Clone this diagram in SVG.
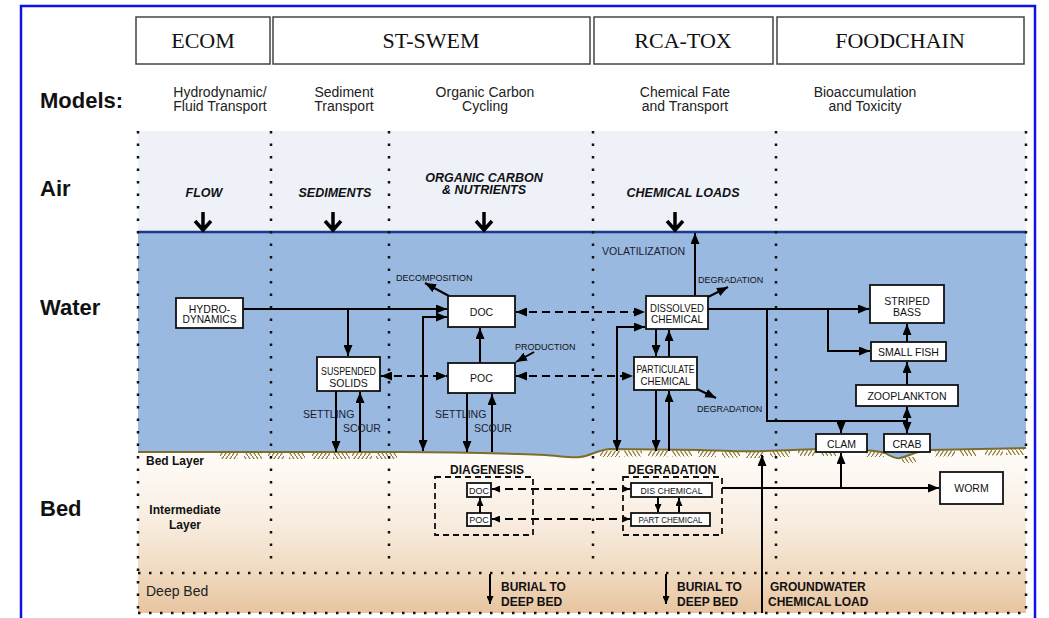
<svg xmlns="http://www.w3.org/2000/svg" width="1049" height="618" viewBox="0 0 1049 618">
<style>
.hdr{font-family:"Liberation Serif","Times New Roman",serif;font-size:22px;fill:#111;text-anchor:middle}
.hbox{fill:#fff;stroke:#444;stroke-width:1.5}
.sub{font-family:"Liberation Sans",Arial,sans-serif;font-size:14px;fill:#222;text-anchor:middle}
.zone{font-family:"Liberation Sans",Arial,sans-serif;font-size:22px;font-weight:bold;fill:#111}
.inp{font-family:"Liberation Sans",Arial,sans-serif;font-size:12.5px;font-weight:bold;font-style:italic;fill:#111;text-anchor:middle}
.box{fill:#fff;stroke:#111;stroke-width:1.8}
.bt{font-family:"Liberation Sans",Arial,sans-serif;font-size:10.5px;fill:#111;text-anchor:middle}
.bts{font-family:"Liberation Sans",Arial,sans-serif;font-size:9px;fill:#111;text-anchor:middle}
.sm{font-family:"Liberation Sans",Arial,sans-serif;font-size:9px;fill:#111}
.lab{font-family:"Liberation Sans",Arial,sans-serif;font-size:10.5px;fill:#1a2030}
.bl{font-family:"Liberation Sans",Arial,sans-serif;font-size:12px;font-weight:bold;fill:#111}
.ln{fill:none;stroke:#000;stroke-width:2}
.dash{stroke-dasharray:8 5}
.gbox{fill:none;stroke:#111;stroke-width:1.8;stroke-dasharray:6 4}
.dotv{fill:none;stroke:#111;stroke-width:2.5;stroke-dasharray:2.5 10}
.doth{fill:none;stroke:#111;stroke-width:2.5;stroke-dasharray:2.5 8.5}
.air{fill:none;stroke:#000;stroke-width:3.5;stroke-linejoin:miter}
.hf{fill:url(#hf)}
.hb{fill:url(#hb)}
</style>
<defs>
<marker id="a" viewBox="0 0 11 9" refX="11" refY="4.5" markerWidth="11" markerHeight="9" markerUnits="userSpaceOnUse" orient="auto-start-reverse"><path d="M0,0L11,4.5L0,9z" fill="#000"/></marker>
<marker id="s" viewBox="0 0 8 7" refX="8" refY="3.5" markerWidth="8" markerHeight="7" markerUnits="userSpaceOnUse" orient="auto-start-reverse"><path d="M0,0L8,3.5L0,7z" fill="#000"/></marker>
<linearGradient id="bedg" x1="0" y1="450" x2="0" y2="613" gradientUnits="userSpaceOnUse">
<stop offset="0" stop-color="#fffdfa"/>
<stop offset="0.45" stop-color="#f8ecdf"/>
<stop offset="0.75" stop-color="#f0dac0"/>
<stop offset="1" stop-color="#e7c49f"/>
</linearGradient>
<pattern id="hf" width="4" height="6" patternUnits="userSpaceOnUse"><path d="M0,6L4,0" stroke="#86742f" stroke-width="1.2"/></pattern>
<pattern id="hb" width="4" height="6" patternUnits="userSpaceOnUse"><path d="M0,0L4,6" stroke="#86742f" stroke-width="1.2"/></pattern>
</defs>

<rect x="0" y="0" width="1049" height="618" fill="#fff"/>

<g id="background">
<rect x="138" y="131" width="888" height="101" fill="#eef1f8"/>
<rect x="138" y="232" width="888" height="232" fill="#99b9e1"/>
<path d="M138,452 L400,452 C450,452 520,454 545,455 C560,456 572,458 580,457 C590,456 597,450 610,449 L700,450 C730,451 750,452 765,451 L820,449 C860,449 875,450 885,453 C890,456 895,459 900,458 C910,456 915,451 930,450 L1026,448 L1026,613 L138,613 Z" fill="url(#bedg)"/>
<g id="hatch">
<rect class="hf" x="220" y="453" width="18" height="6"/>
<rect class="hb" x="244" y="453" width="18" height="6"/>
<rect class="hf" x="268" y="453" width="16" height="6"/>
<rect class="hb" x="289" y="453" width="16" height="6"/>
<rect class="hf" x="312" y="453" width="18" height="6"/>
<rect class="hb" x="333" y="453" width="17" height="6"/>
<rect class="hf" x="352" y="453" width="20" height="6"/>
<rect class="hb" x="376" y="453" width="21" height="6"/>
<rect class="hf" x="600" y="451" width="20" height="6"/>
<rect class="hb" x="624" y="450.5" width="18" height="6"/>
<rect class="hf" x="648" y="450.5" width="20" height="6"/>
<rect class="hb" x="672" y="450.5" width="20" height="6"/>
<rect class="hf" x="698" y="451" width="18" height="6"/>
<rect class="hb" x="722" y="451.5" width="18" height="6"/>
<rect class="hf" x="746" y="452" width="18" height="6"/>
<rect class="hb" x="770" y="451" width="20" height="6"/>
<rect class="hf" x="798" y="450" width="17" height="6"/>
<rect class="hb" x="820" y="450" width="16" height="6"/>
<rect class="hf" x="866" y="451" width="18" height="6"/>
<rect class="hb" x="902" y="457" width="14" height="6"/>
<rect class="hf" x="935" y="450.5" width="20" height="6"/>
<rect class="hb" x="960" y="450" width="16" height="6"/>
<rect class="hf" x="985" y="449.5" width="18" height="6"/>
<rect class="hb" x="1006" y="449" width="18" height="6"/>
</g>
<path d="M138,452 L400,452 C450,452 520,454 545,455 C560,456 572,458 580,457 C590,456 597,450 610,449 L700,450 C730,451 750,452 765,451 L820,449 C860,449 875,450 885,453 C890,456 895,459 900,458 C910,456 915,451 930,450 L1026,448" fill="none" stroke="#7d6d2c" stroke-width="2"/>
<path d="M138,232 H1026" stroke="#1b3a8c" stroke-width="2.5"/>
<g id="grid">
<path class="dotv" d="M138,131 V613 M1026,131 V613 M271,131 V565 M389,131 V565 M593,131 V565 M776,131 V565"/>
<path class="doth" d="M138,573 H1026 M138,613 H1026"/>
</g>
</g>

<rect x="21" y="6" width="1014" height="630" fill="none" stroke="#1010e8" stroke-width="2.5"/>

<g id="headers">
<g id="h-ecom"><rect class="hbox" x="136" y="17" width="134" height="47"/><text class="hdr" x="203" y="48">ECOM</text></g>
<g id="h-stswem"><rect class="hbox" x="273" y="17" width="317" height="47"/><text class="hdr" x="431" y="48">ST-SWEM</text></g>
<g id="h-rcatox"><rect class="hbox" x="594" y="17" width="179" height="47"/><text class="hdr" x="683" y="48">RCA-TOX</text></g>
<g id="h-foodchain"><rect class="hbox" x="777" y="17" width="247" height="47"/><text class="hdr" x="900" y="48">FOODCHAIN</text></g>
</g>

<g id="subtitles">
<text class="zone" x="40" y="108">Models:</text>
<text class="sub" x="220" y="97">Hydrodynamic/</text><text class="sub" x="220" y="111">Fluid Transport</text>
<text class="sub" x="344" y="97">Sediment</text><text class="sub" x="344" y="111">Transport</text>
<text class="sub" x="485" y="97">Organic Carbon</text><text class="sub" x="485" y="111">Cycling</text>
<text class="sub" x="685" y="97">Chemical Fate</text><text class="sub" x="685" y="111">and Transport</text>
<text class="sub" x="865" y="97">Bioaccumulation</text><text class="sub" x="865" y="111">and Toxicity</text>
</g>

<g id="zones">
<text class="zone" x="40" y="196">Air</text>
<text class="zone" x="40" y="315">Water</text>
<text class="zone" x="40" y="516">Bed</text>
<text class="bl" x="146" y="465">Bed Layer</text>
<text class="bl" x="185" y="514" text-anchor="middle">Intermediate</text>
<text class="bl" x="185" y="529" text-anchor="middle">Layer</text>
<text x="146" y="596" font-family="Liberation Sans, Arial, sans-serif" font-size="14" fill="#222">Deep Bed</text>
</g>

<g id="inputs">
<text class="inp" x="204" y="197">FLOW</text>
<text class="inp" x="335" y="197">SEDIMENTS</text>
<text class="inp" x="484" y="182" font-size="11">ORGANIC CARBON</text>
<text class="inp" x="484" y="194" font-size="11">&amp; NUTRIENTS</text>
<text class="inp" x="683" y="197">CHEMICAL LOADS</text>
<path class="air" d="M203,212V230M195,221L203,230L211,221"/>
<path class="air" d="M333,212V230M325,221L333,230L341,221"/>
<path class="air" d="M484,212V230M476,221L484,230L492,221"/>
<path class="air" d="M675,212V230M667,221L675,230L683,221"/>
</g>

<g id="connectors">
<path class="ln" d="M243,309 H447" marker-end="url(#a)"/>
<path class="ln" d="M348,309 V356" marker-end="url(#a)"/>
<path class="ln dash" d="M381,376 H447" marker-start="url(#a)" marker-end="url(#a)"/>
<path class="ln" d="M336,391 V452" marker-end="url(#a)"/>
<path class="ln" d="M360,452 V392" marker-end="url(#a)"/>
<path class="ln" d="M447,317 H423 V451" marker-start="url(#a)" marker-end="url(#a)"/>
<path class="ln" d="M480,363 V328" marker-end="url(#a)"/>
<path class="ln" d="M449,296 L425,283" marker-end="url(#a)"/>
<path class="ln" d="M534,352 L516,362" marker-end="url(#a)"/>
<path class="ln" d="M467,393 V452" marker-end="url(#a)"/>
<path class="ln" d="M492,452 V394" marker-end="url(#a)"/>
<path class="ln dash" d="M516,312 H645" marker-start="url(#a)" marker-end="url(#a)"/>
<path class="ln dash" d="M516,376 H633" marker-start="url(#a)" marker-end="url(#a)"/>
<path class="ln" d="M656,329 V356" marker-end="url(#a)"/>
<path class="ln" d="M669,357 V330" marker-end="url(#a)"/>
<path class="ln" d="M645,327 H617 V451" marker-start="url(#a)" marker-end="url(#a)"/>
<path class="ln" d="M656,390 V451" marker-end="url(#a)"/>
<path class="ln" d="M669,451 V391" marker-end="url(#a)"/>
<path class="ln" d="M695,296 V233" marker-end="url(#a)"/>
<path class="ln" d="M708,297 L728,287" marker-end="url(#a)"/>
<path class="ln" d="M697,389 L716,398" marker-end="url(#a)"/>
<path class="ln" d="M708,309 H869" marker-end="url(#a)"/>
<path class="ln" d="M828,309 V351 H870" marker-end="url(#a)"/>
<path class="ln" d="M767,309 V421 H907"/>
<path class="ln" d="M841,421 V433" marker-end="url(#a)"/>
<path class="ln" d="M907,421 V407" marker-end="url(#a)"/>
<path class="ln" d="M907,421 V433" marker-end="url(#a)"/>
<path class="ln" d="M907,385 V362" marker-end="url(#a)"/>
<path class="ln" d="M907,342 V324" marker-end="url(#a)"/>
<path class="ln dash" d="M492,489 H630" marker-start="url(#s)" marker-end="url(#s)"/>
<path class="ln dash" d="M492,519 H630" marker-start="url(#s)" marker-end="url(#s)"/>
<path class="ln" d="M480,513 V498" marker-end="url(#s)"/>
<path class="ln" d="M658,497 V512" marker-end="url(#s)"/>
<path class="ln" d="M679,513 V498" marker-end="url(#s)"/>
<path class="ln" d="M722,488 H939" marker-end="url(#a)"/>
<path class="ln" d="M841,488 V453" marker-end="url(#a)"/>
<path class="ln" d="M762,613 V455" marker-end="url(#a)"/>
<path class="ln" d="M490,574 V604" marker-end="url(#s)"/>
<path class="ln" d="M666,574 V604" marker-end="url(#s)"/>
</g>

<g id="labels">
<text class="sm" x="396" y="281">DECOMPOSITION</text>
<text class="sm" x="515" y="350">PRODUCTION</text>
<text class="lab" x="602" y="255">VOLATILIZATION</text>
<text class="sm" x="698" y="283">DEGRADATION</text>
<text class="sm" x="697" y="412">DEGRADATION</text>
<text class="lab" x="303" y="418" font-size="11">SETTLING</text>
<text class="lab" x="343" y="432">SCOUR</text>
<text class="lab" x="435" y="418" font-size="11">SETTLING</text>
<text class="lab" x="474" y="432">SCOUR</text>
<text class="bl" x="487" y="474" text-anchor="middle" font-size="11.5">DIAGENESIS</text>
<text class="bl" x="672" y="474" text-anchor="middle" font-size="11.5">DEGRADATION</text>
<text class="bl" x="501" y="591">BURIAL TO</text>
<text class="bl" x="501" y="606">DEEP BED</text>
<text class="bl" x="677" y="591">BURIAL TO</text>
<text class="bl" x="677" y="606">DEEP BED</text>
<text class="bl" x="770" y="591">GROUNDWATER</text>
<text class="bl" x="768" y="606">CHEMICAL LOAD</text>
</g>

<g id="n-hydro"><rect class="box" x="176" y="298" width="67" height="30"/><text class="bt" x="209.5" y="312.5">HYDRO-</text><text class="bt" x="209.5" y="323" textLength="54" lengthAdjust="spacingAndGlyphs">DYNAMICS</text></g>
<g id="n-suspended"><rect class="box" x="317" y="357" width="63" height="34"/><text class="bt" x="348.5" y="374.5" textLength="55" lengthAdjust="spacingAndGlyphs">SUSPENDED</text><text class="bt" x="348.5" y="386.5">SOLIDS</text></g>
<g id="n-doc"><rect class="box" x="448" y="296" width="67" height="31"/><text class="bt" x="481.5" y="315.5" font-size="11.5">DOC</text></g>
<g id="n-poc"><rect class="box" x="448" y="363" width="67" height="30"/><text class="bt" x="481.5" y="382" font-size="11.5">POC</text></g>
<g id="n-dissolved"><rect class="box" x="646" y="296" width="62" height="33"/><text class="bt" x="677" y="311.5" textLength="54" lengthAdjust="spacingAndGlyphs">DISSOLVED</text><text class="bt" x="677" y="322.5" textLength="52" lengthAdjust="spacingAndGlyphs">CHEMICAL</text></g>
<g id="n-particulate"><rect class="box" x="634" y="357" width="63" height="33"/><text class="bt" x="665.5" y="372.5" textLength="58" lengthAdjust="spacingAndGlyphs">PARTICULATE</text><text class="bt" x="665.5" y="384.5" textLength="50" lengthAdjust="spacingAndGlyphs">CHEMICAL</text></g>
<g id="n-striped"><rect class="box" x="870" y="285" width="74" height="38"/><text class="bt" x="907" y="304.5">STRIPED</text><text class="bt" x="907" y="315.5">BASS</text></g>
<g id="n-smallfish"><rect class="box" x="871" y="342" width="75" height="19"/><text class="bt" x="908.5" y="355.5">SMALL FISH</text></g>
<g id="n-zooplankton"><rect class="box" x="856" y="385" width="102" height="21"/><text class="bt" x="907" y="400" font-size="12">ZOOPLANKTON</text></g>
<g id="n-clam"><rect class="box" x="816" y="434" width="51" height="18"/><text class="bt" x="841.5" y="448" font-size="12.5">CLAM</text></g>
<g id="n-crab"><rect class="box" x="884" y="434" width="46" height="18"/><text class="bt" x="907" y="448" font-size="12.5">CRAB</text></g>
<g id="n-worm"><rect class="box" x="940" y="472" width="63" height="32"/><text class="bt" x="971.5" y="492">WORM</text></g>

<g id="g-diagenesis"><rect class="gbox" x="435" y="477" width="98" height="58"/></g>
<g id="g-degradation"><rect class="gbox" x="623" y="477" width="99" height="58"/></g>
<g id="n-bed-doc"><rect class="box" x="467" y="483" width="24" height="14" stroke-width="1.5"/><text class="bts" x="479" y="493.5" font-size="8.5">DOC</text></g>
<g id="n-bed-poc"><rect class="box" x="467" y="513" width="24" height="13" stroke-width="1.5"/><text class="bts" x="479" y="523" font-size="8.5">POC</text></g>
<g id="n-dis-chem"><rect class="box" x="631" y="483" width="81" height="14" stroke-width="1.5"/><text class="bts" x="671.5" y="493.5" textLength="62" lengthAdjust="spacingAndGlyphs">DIS CHEMICAL</text></g>
<g id="n-part-chem"><rect class="box" x="631" y="513" width="79" height="13" stroke-width="1.5"/><text class="bts" x="670.5" y="523" textLength="64" lengthAdjust="spacingAndGlyphs">PART CHEMICAL</text></g>
</svg>
